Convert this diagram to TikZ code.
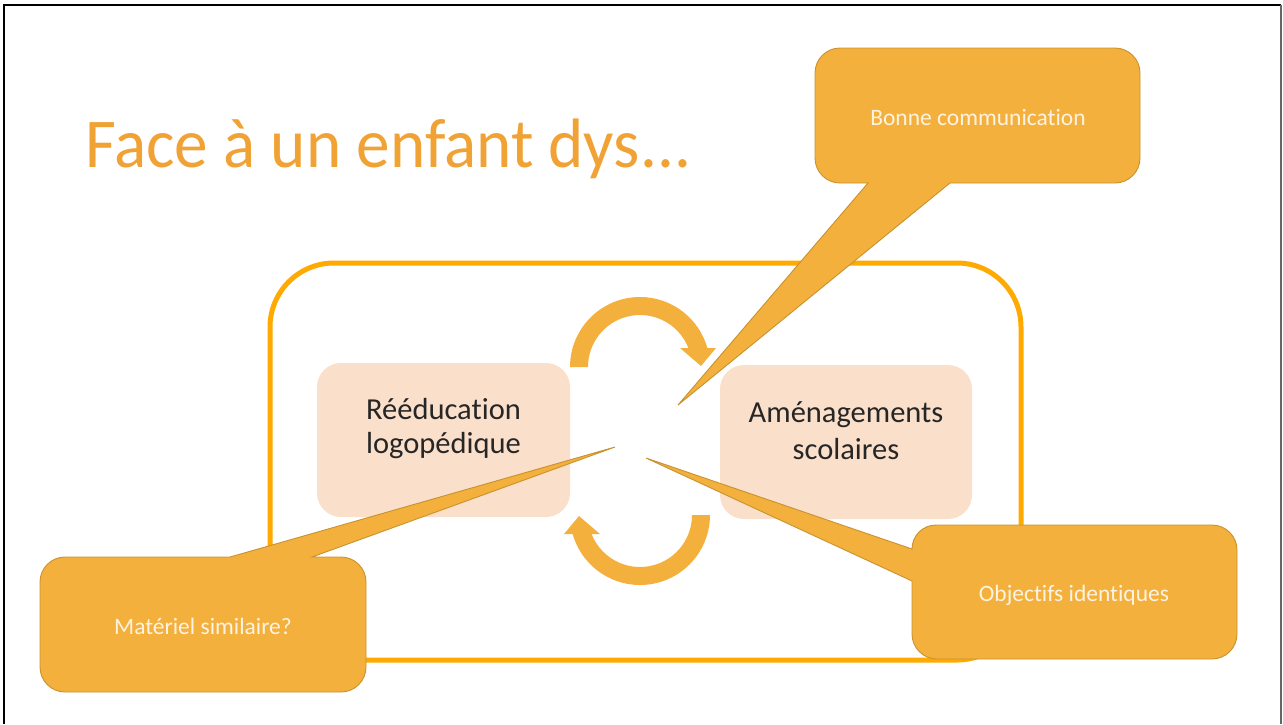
\documentclass[tikz,border=0pt]{standalone}
\usepackage{fontspec}
\setmainfont{Carlito}[Ligatures={NoCommon,NoContextual}]
\definecolor{titlec}{HTML}{F0A235}
\definecolor{framec}{HTML}{FFAA00}
\definecolor{callc}{HTML}{F4B03C}
\definecolor{callline}{HTML}{C8922F}
\definecolor{pinkc}{HTML}{FADFCB}
\definecolor{calltext}{HTML}{FDF3E3}
\definecolor{pageline}{HTML}{666666}
\tikzset{
  pinkbox/.style={fill=pinkc, rounded corners=24pt},
  boxtext/.style={align=center, font=\fontsize{30.5}{34}\selectfont, text=black!85, inner sep=0},
  callshape/.style={fill=callc, draw=callline, line width=0.9pt, line join=miter},
  calltxt/.style={text=calltext, font=\fontsize{23.5}{27}\selectfont, anchor=base, inner sep=0},
  cyclearrow/.style={fill=callc},
}
\begin{document}
\begin{tikzpicture}[x=1pt,y=-1pt]
\useasboundingbox (0,0) rectangle (1283,724);
% page border
\draw[black, line width=2.5pt] (4,724) -- (4,5) -- (1281,5);
\draw[pageline, line width=1.2pt] (1281,5) -- (1281,724);
% title
\node[anchor=base west, inner sep=0, text=titlec, font=\fontsize{70}{80}\selectfont] (title) at (85,167) {\scalebox{0.96}[1]{Face à un enfant dys...}};
% frame
\draw[framec, line width=5pt, rounded corners=64pt] (270,263) rectangle (1021,660);
% pink boxes
\fill[pinkbox] (317,363) rectangle (570,517);
\fill[pinkbox] (720,365) rectangle (972,519);
\node[boxtext] (reeduc) at (443.5,429) {Rééducation\\logopédique};
\node[boxtext, font=\fontsize{30.5}{37}\selectfont] (amen) at (846,431) {Aménagements\\scolaires};
% cycle arrows
\fill[cyclearrow] (570,367) arc[start angle=180, end angle=345, radius=70]
  -- ({640+52*cos(345)},{367+52*sin(345)}) arc[start angle=345, end angle=180, radius=52] -- cycle;
\fill[cyclearrow] (680,348) -- (716,348) -- (701,366) -- cycle;
\fill[cyclearrow] (710,515) arc[start angle=0, end angle=165, radius=70]
  -- ({640+52*cos(165)},{515+52*sin(165)}) arc[start angle=165, end angle=0, radius=52] -- cycle;
\fill[cyclearrow] (564,534) -- (600,534) -- (579,516) -- cycle;
% callout tips
\coordinate (tipA) at (678,405);
\coordinate (tipB) at (615,447);
\coordinate (tipC) at (646,458);
% callout top: Bonne communication
\draw[callshape] (840,48) -- (1115,48) arc[start angle=270, end angle=360, radius=25]
  -- (1140,158) arc[start angle=0, end angle=90, radius=25]
  -- (950,183) -- (tipA) -- (868,183)
  -- (840,183) arc[start angle=90, end angle=180, radius=25]
  -- (815,73) arc[start angle=180, end angle=270, radius=25] -- cycle;
\node[calltxt] (bonne) at (978,125) {Bonne communication};
% callout bottom left: Materiel similaire?
\draw[callshape] (65,557) -- (230,557) -- (tipB) -- (312,557)
  -- (341,557) arc[start angle=270, end angle=360, radius=25]
  -- (366,667) arc[start angle=0, end angle=90, radius=25]
  -- (65,692) arc[start angle=90, end angle=180, radius=25]
  -- (40,582) arc[start angle=180, end angle=270, radius=25] -- cycle;
\node[calltxt] (mater) at (203,634) {Matériel similaire?};
% callout bottom right: Objectifs identiques
\draw[callshape] (937,525) -- (1212,525) arc[start angle=270, end angle=360, radius=25]
  -- (1237,634) arc[start angle=0, end angle=90, radius=25]
  -- (937,659) arc[start angle=90, end angle=180, radius=25]
  -- (912,581) -- (tipC) -- (912,549)
  arc[start angle=180, end angle=270, radius=24] -- cycle;
\node[calltxt] (objec) at (1074,601) {Objectifs identiques};
\end{tikzpicture}
\end{document}
